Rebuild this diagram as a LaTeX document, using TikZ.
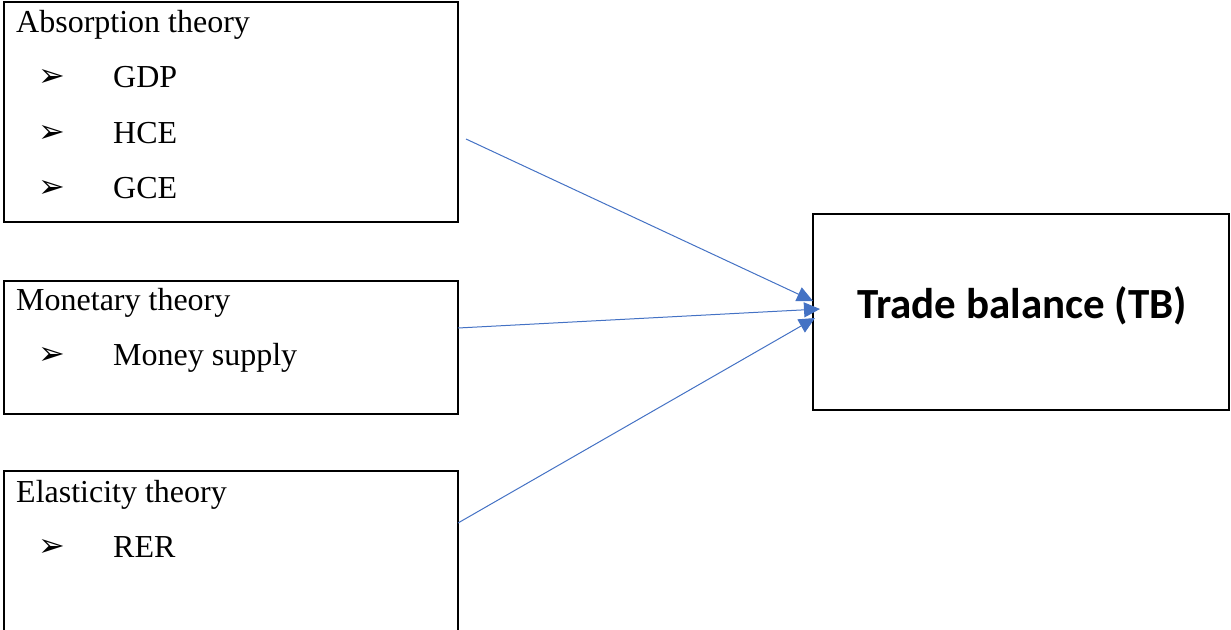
\documentclass[tikz,border=0pt]{standalone}
\usepackage{fontspec}
\setmainfont{Liberation Serif}
\newfontfamily\calib{Carlito}
\newfontfamily\dejavu{DejaVu Sans}
\usetikzlibrary{arrows.meta}
\definecolor{lineblue}{HTML}{4472C4}
\tikzset{
  box/.style={draw=black, line width=1.8pt},
  txt/.style={anchor=base west, inner sep=0pt, font=\fontsize{32}{32}\selectfont},
  bul/.style={anchor=center, inner sep=0pt, font=\dejavu\fontsize{32}{32}\selectfont},
  conn/.style={draw=lineblue, line width=1pt, -{Triangle[length=16pt,width=15pt]}},
}
\begin{document}
\begin{tikzpicture}[x=1pt,y=-1pt]
\useasboundingbox (0,0) rectangle (1231,629);
\begin{scope}
\clip (0,0) rectangle (1231,629);
% boxes
\draw[box] (4,2) rectangle (458,222);
\draw[box] (4,281) rectangle (458,414);
\draw[box] (4,471) rectangle (458,660);
\draw[box] (813,214) rectangle (1229,410);
\end{scope}
% box 1
\node[txt] (t1) at (16,32) {Absorption theory};
\node[bul] (b11) at (52,78) {➢};
\node[txt] (i11) at (113,87) {GDP};
\node[bul] (b12) at (52,134) {➢};
\node[txt] (i12) at (113,143) {HCE};
\node[bul] (b13) at (52,189) {➢};
\node[txt] (i13) at (113,198) {GCE};
% box 2
\node[txt] (t2) at (16,310) {Monetary theory};
\node[bul] (b21) at (52,356) {➢};
\node[txt] (i21) at (113,365) {Money supply};
% box 3
\node[txt] (t3) at (16,502) {Elasticity theory};
\node[bul] (b31) at (52,548) {➢};
\node[txt] (i31) at (113,557) {RER};
% TB
\node[anchor=base, inner sep=0pt, font=\calib\bfseries\fontsize{43}{43}\selectfont] (tb) at (1022,318) {Trade balance (TB)};
% connector ends
\coordinate (s1) at (466,139);
\coordinate (s2) at (458,328);
\coordinate (s3) at (458,523);
\coordinate (e1) at (813,301);
\coordinate (e2) at (820,309);
\coordinate (e3) at (815,318);
\draw[conn] (s1) -- (e1);
\draw[conn] (s2) -- (e2);
\draw[conn] (s3) -- (e3);
\end{tikzpicture}
\end{document}
